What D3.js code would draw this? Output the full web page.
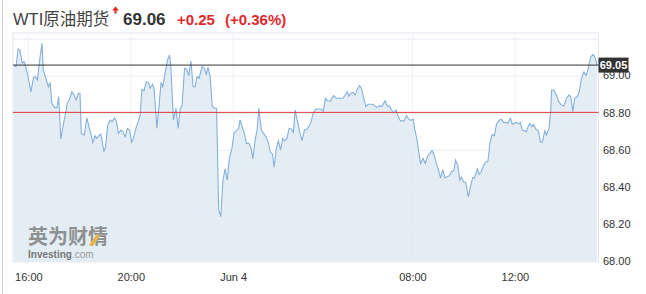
<!DOCTYPE html>
<html>
<head>
<meta charset="utf-8">
<script src="https://cdn.jsdelivr.net/npm/d3@7"></script>
<style>
  body { margin: 0; background: #fff; }
  svg { display: block; font-family: Arial, "Liberation Sans", "Noto Sans CJK SC", sans-serif; }
</style>
</head>
<body>
<div id="chart"></div>
<script>
const title = 'WTI原油期货';
const lastPrice = '69.06';
const change = '+0.25';
const changePct = '(+0.36%)';

// trading minutes since 15:24 (the 05:00-06:00 break is skipped)
const minutes = [
  2, 7, 12, 16, 22, 26, 30, 36, 42, 48,
  52, 57, 63, 68, 71, 77, 83, 87, 91, 97,
  103, 107, 112, 118, 124, 127, 132, 138, 143, 148,
  153, 157, 160, 167, 173, 181, 187, 192, 196, 201,
  206, 213, 217, 222, 228, 232, 238, 242, 247, 253,
  257, 263, 268, 273, 278, 282, 289, 294, 298, 302,
  307, 312, 317, 321, 327, 331, 337, 342, 347, 351,
  357, 362, 367, 370, 376, 382, 387, 392, 396, 402,
  407, 412, 417, 422, 427, 431, 436, 443, 448, 453,
  457, 462, 467, 472, 477, 482, 487, 492, 497, 502,
  507, 513, 518, 525, 529, 532, 537, 542, 547, 553,
  558, 562, 568, 572, 576, 582, 587, 593, 599, 603,
  608, 612, 617, 622, 627, 632, 636, 642, 647, 653,
  657, 661, 667, 672, 677, 683, 687, 693, 698, 704,
  710, 716, 722, 727, 732, 737, 744, 751, 758, 765,
  773, 777, 783, 787, 792, 797, 802, 806, 812, 816,
  822, 827, 832, 837, 843, 849, 853, 858, 865, 872,
  877, 882, 887, 892, 898, 901, 908, 916, 922, 927,
  933, 938, 941, 947, 952, 955, 961, 966, 972, 976,
  982, 987, 992, 997, 1002, 1007, 1012, 1017, 1023, 1027,
  1033, 1037, 1042, 1047, 1051, 1056, 1061, 1067, 1072, 1077,
  1081, 1088, 1092, 1097, 1103, 1109, 1113, 1118, 1123, 1128,
  1133, 1138, 1144, 1149, 1154, 1159, 1166, 1170, 1175, 1180,
  1185, 1189, 1193, 1199, 1203, 1207, 1211, 1216, 1220, 1225,
  1231, 1236, 1241, 1246, 1250, 1256, 1260, 1262, 1267, 1274,
  1279, 1285, 1291, 1297, 1303, 1307, 1312, 1316, 1322, 1327,
  1332, 1338, 1343, 1348, 1354, 1360, 1365, 1369
];

const prices = [
  69.057, 69.051, 69.147, 69.141, 69.070, 69.078, 69.051, 68.989, 68.916, 68.992,
  68.997, 68.980, 69.097, 69.177, 69.033, 68.989, 68.943, 68.967, 68.854, 68.832,
  68.830, 68.889, 68.661, 68.741, 68.809, 68.854, 68.872, 68.916, 68.899, 68.872,
  68.908, 68.908, 68.692, 68.683, 68.776, 68.701, 68.642, 68.679, 68.665, 68.679,
  68.687, 68.593, 68.620, 68.737, 68.764, 68.755, 68.776, 68.759, 68.692, 68.710,
  68.701, 68.674, 68.719, 68.710, 68.644, 68.665, 68.728, 68.759, 68.791, 68.929,
  68.920, 68.970, 68.967, 68.935, 68.956, 68.926, 68.719, 68.836, 68.967, 68.943,
  69.024, 69.087, 69.114, 69.043, 68.764, 68.827, 68.719, 68.827, 68.841, 69.043,
  69.039, 69.003, 69.082, 68.943, 68.943, 68.997, 68.989, 69.051, 69.043, 69.010,
  69.048, 68.997, 68.836, 68.827, 68.827, 68.279, 68.243, 68.440, 68.500, 68.440,
  68.557, 68.611, 68.692, 68.710, 68.719, 68.764, 68.728, 68.692, 68.638, 68.638,
  68.611, 68.554, 68.665, 68.710, 68.827, 68.710, 68.692, 68.674, 68.638, 68.590,
  68.581, 68.509, 68.611, 68.651, 68.602, 68.665, 68.651, 68.665, 68.719, 68.715,
  68.692, 68.818, 68.755, 68.701, 68.651, 68.710, 68.710, 68.728, 68.751, 68.805,
  68.823, 68.823, 68.823, 68.812, 68.881, 68.868, 68.866, 68.895, 68.881, 68.881,
  68.881, 68.893, 68.916, 68.893, 68.908, 68.913, 68.899, 68.926, 68.949, 68.938,
  68.881, 68.836, 68.849, 68.849, 68.849, 68.839, 68.832, 68.839, 68.839, 68.868,
  68.839, 68.839, 68.818, 68.803, 68.818, 68.791, 68.759, 68.759, 68.787, 68.769,
  68.762, 68.769, 68.719, 68.656, 68.575, 68.530, 68.557, 68.530, 68.571, 68.581,
  68.598, 68.575, 68.530, 68.494, 68.450, 68.498, 68.453, 68.458, 68.464, 68.485,
  68.491, 68.548, 68.521, 68.440, 68.455, 68.431, 68.428, 68.350, 68.404, 68.453,
  68.450, 68.500, 68.471, 68.485, 68.521, 68.539, 68.543, 68.645, 68.687, 68.679,
  68.741, 68.759, 68.769, 68.751, 68.751, 68.746, 68.773, 68.741, 68.746, 68.751,
  68.742, 68.751, 68.710, 68.706, 68.701, 68.728, 68.746, 68.728, 68.741, 68.715,
  68.706, 68.644, 68.647, 68.705, 68.683, 68.719, 68.809, 68.926, 68.926, 68.895,
  68.863, 68.845, 68.841, 68.881, 68.899, 68.889, 68.809, 68.881, 68.889, 68.916,
  68.989, 69.024, 69.003, 69.043, 69.105, 69.118, 69.093, 69.057
];

const xTickMinutes = [36, 276, 516, 936, 1176];
const xTickLabels = ['16:00', '20:00', 'Jun 4', '08:00', '12:00'];
const yGridValues = [68.0, 68.2, 68.4, 68.6, 68.8, 69.0, 69.2];
const yLabelValues = [68.0, 68.2, 68.4, 68.6, 68.8, 69.0];
const prevClose = 68.805;
const currentLevel = 69.06;
const currentLabel = '69.05';

const width = 646;
const height = 294;
const plot = { left: 13, right: 598.5, top: 33, bottom: 261.7 };

const svg = d3.select('#chart')
  .append('svg')
  .attr('width', width)
  .attr('height', height);

const x = d3.scaleLinear().domain([0, 1372]).range([plot.left, plot.right]);
const y = d3.scaleLinear().domain([68, 69.233]).range([plot.bottom, plot.top]);

// page border on the left
svg.append('line')
  .attr('x1', 2.5).attr('x2', 2.5)
  .attr('y1', 0).attr('y2', height)
  .attr('stroke', '#cfcfcf');

// header
svg.append('text')
  .attr('x', 13).attr('y', 25)
  .attr('font-size', 16.5)
  .attr('fill', '#444')
  .text(title);

svg.append('path')
  .attr('d', 'M115.5,6.5 L119,10.5 L116.6,10.5 L116.6,13.5 L114.4,13.5 L114.4,10.5 L112,10.5 Z')
  .attr('fill', '#e0282c');

svg.append('text')
  .attr('x', 123).attr('y', 25)
  .attr('font-size', 17).attr('font-weight', 'bold')
  .attr('fill', '#333')
  .text(lastPrice);

svg.append('text')
  .attr('x', 177).attr('y', 25)
  .attr('font-size', 15).attr('font-weight', 'bold')
  .attr('fill', '#e0282c')
  .text(change);

svg.append('text')
  .attr('x', 225).attr('y', 25)
  .attr('font-size', 15).attr('font-weight', 'bold')
  .attr('fill', '#e0282c')
  .text(changePct);

// plot background frame
svg.append('rect')
  .attr('x', plot.left).attr('y', plot.top)
  .attr('width', plot.right - plot.left)
  .attr('height', plot.bottom - plot.top)
  .attr('fill', '#fff')
  .attr('stroke', '#e4e4ee');

// grid
svg.append('g')
  .selectAll('line')
  .data(yGridValues)
  .join('line')
  .attr('x1', plot.left).attr('x2', plot.right)
  .attr('y1', d => y(d)).attr('y2', d => y(d))
  .attr('stroke', '#eef0f4');

svg.append('g')
  .selectAll('line')
  .data(xTickMinutes)
  .join('line')
  .attr('x1', d => x(d)).attr('x2', d => x(d))
  .attr('y1', plot.top).attr('y2', plot.bottom)
  .attr('stroke', '#eef0f4');

const data = minutes.map((m, i) => ({ m, p: prices[i] }));

const area = d3.area()
  .x(d => x(d.m))
  .y0(y(68))
  .y1(d => y(d.p));

const line = d3.line()
  .x(d => x(d.m))
  .y(d => y(d.p));

svg.append('path')
  .datum(data)
  .attr('d', area)
  .attr('fill', '#dde8f0')
  .attr('fill-opacity', 0.8);

// redraw grid faintly over fill
svg.append('g')
  .selectAll('line')
  .data(yGridValues.slice(1))
  .join('line')
  .attr('x1', plot.left).attr('x2', plot.right)
  .attr('y1', d => y(d)).attr('y2', d => y(d))
  .attr('stroke', '#e9eef3')
  .attr('stroke-opacity', 0.6);

// watermark
svg.append('text')
  .attr('x', 28).attr('y', 244)
  .attr('font-size', 20).attr('font-weight', 'bold')
  .attr('fill', '#7f7f7f')
  .attr('fill-opacity', 0.85)
  .text('英为财情');

svg.append('path')
  .attr('d', 'M89,245 L97,234 L100,236 L93,246 Z')
  .attr('fill', '#e8b54a');

const wm = svg.append('text')
  .attr('x', 28).attr('y', 257.5)
  .attr('font-size', 10)
  .attr('fill', '#777');
wm.append('tspan').attr('font-weight', 'bold').text('Investing');
wm.append('tspan').attr('fill', '#9a9a9a').text('.com');

svg.append('path')
  .datum(data)
  .attr('d', line)
  .attr('fill', 'none')
  .attr('stroke', '#84b1dc')
  .attr('stroke-width', 1.1);

// reference lines
svg.append('line')
  .attr('x1', plot.left).attr('x2', plot.right)
  .attr('y1', y(prevClose)).attr('y2', y(prevClose))
  .attr('stroke', '#e03a3a')
  .attr('stroke-width', 1);

svg.append('line')
  .attr('x1', plot.left).attr('x2', plot.right)
  .attr('y1', y(currentLevel)).attr('y2', y(currentLevel))
  .attr('stroke', '#333')
  .attr('stroke-width', 1);

// y axis labels
const yAxis = d3.axisRight(y)
  .tickValues(yLabelValues)
  .tickFormat(d3.format('.2f'))
  .tickSize(0)
  .tickPadding(4.5);

const yAxisG = svg.append('g')
  .attr('transform', `translate(${plot.right},0)`)
  .call(yAxis);
yAxisG.select('.domain').remove();
yAxisG.selectAll('text')
  .attr('font-size', 11)
  .attr('font-family', 'Arial, "Liberation Sans", sans-serif')
  .attr('fill', '#333')
  .attr('dy', '0.25em');

// current price tag
const tag = svg.append('g')
  .attr('transform', `translate(${plot.right},${y(currentLevel)})`);
tag.append('rect')
  .attr('x', 0).attr('y', -7.5)
  .attr('width', 30).attr('height', 15)
  .attr('fill', '#333');
tag.append('text')
  .attr('x', 15).attr('y', 4)
  .attr('text-anchor', 'middle')
  .attr('font-size', 11).attr('font-weight', 'bold')
  .attr('fill', '#fff')
  .text(currentLabel);

// x axis labels
const xAxis = d3.axisBottom(x)
  .tickValues(xTickMinutes)
  .tickFormat((d, i) => xTickLabels[i])
  .tickSize(0)
  .tickPadding(12);

const xAxisG = svg.append('g')
  .attr('transform', `translate(0,${plot.bottom})`)
  .call(xAxis);
xAxisG.select('.domain').remove();
xAxisG.selectAll('text')
  .attr('font-size', 11)
  .attr('font-family', 'Arial, "Liberation Sans", sans-serif')
  .attr('fill', '#333');
</script>
</body>
</html>
